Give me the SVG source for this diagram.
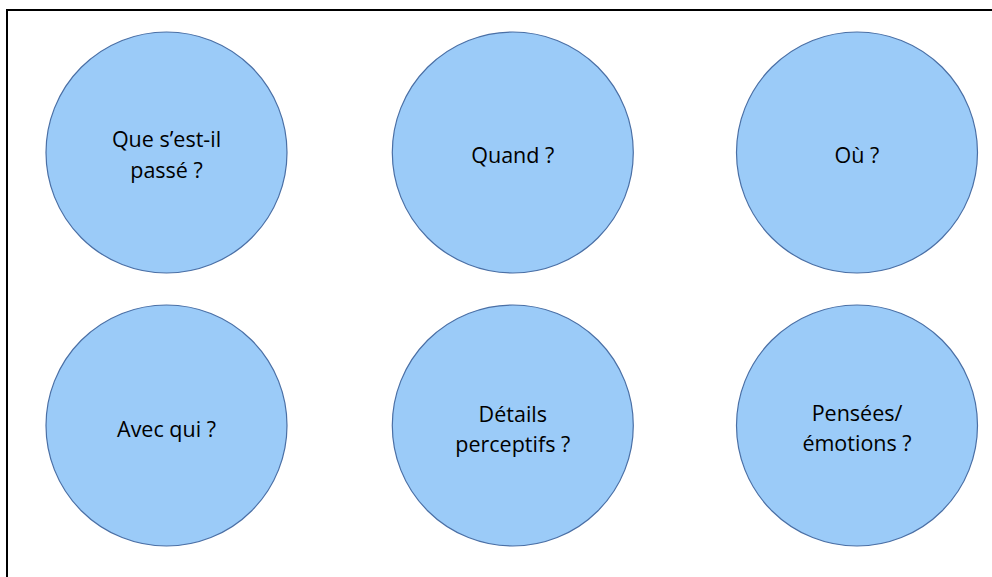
<svg xmlns="http://www.w3.org/2000/svg" width="992" height="577" viewBox="0 0 992 577">
<style>
.n{fill:#9bcbf8;stroke:#4a6fa5;stroke-width:1.2}
.t{font-family:"Open Sans","Liberation Sans",Arial,sans-serif;font-size:21.5px;fill:#000;text-anchor:middle}
</style>
<rect x="0" y="0" width="992" height="577" fill="#fff"/>
<rect x="7" y="10" width="995" height="580" fill="none" stroke="#000" stroke-width="2"/>
<g id="n1"><circle class="n" cx="166.5" cy="152.5" r="120.5"/><text class="t" x="166.5" y="147">Que s’est-il</text><text class="t" x="166.5" y="178">passé ?</text></g>
<g id="n2"><circle class="n" cx="512.8" cy="152.5" r="120.5"/><text class="t" x="512.8" y="162.5">Quand ?</text></g>
<g id="n3"><circle class="n" cx="857" cy="152.5" r="120.5"/><text class="t" x="857" y="162.5">Où ?</text></g>
<g id="n4"><circle class="n" cx="166.5" cy="425.5" r="120.5"/><text class="t" x="166.5" y="437">Avec qui ?</text></g>
<g id="n5"><circle class="n" cx="512.8" cy="425.5" r="120.5"/><text class="t" x="512.8" y="421.7">Détails</text><text class="t" x="512.8" y="451.5">perceptifs ?</text></g>
<g id="n6"><circle class="n" cx="857" cy="425.5" r="120.5"/><text class="t" x="857" y="421">Pensées/</text><text class="t" x="857" y="451">émotions ?</text></g>
<g id="connectors"></g>
</svg>
